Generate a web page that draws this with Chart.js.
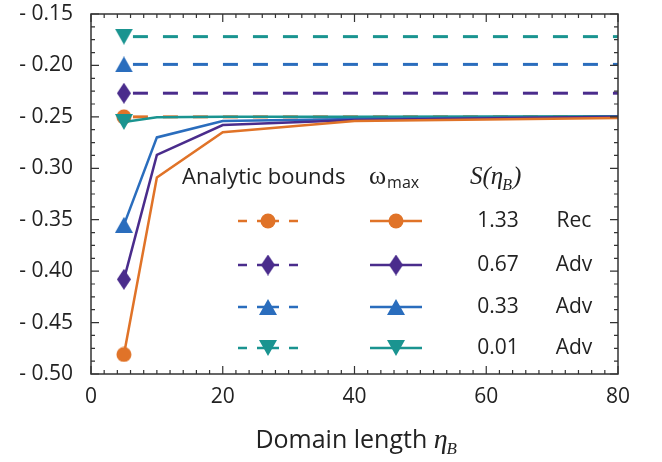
<!DOCTYPE html>
<html>
<head>
<meta charset="utf-8">
<script src="https://cdn.jsdelivr.net/npm/chart.js@4.4.1/dist/chart.umd.min.js"></script>
<style>
  html, body { margin: 0; padding: 0; background: #fff; }
</style>
</head>
<body>
<canvas id="graph" width="662" height="462"></canvas>
<script>
// domain lengths where omega_max was computed
var etaB = [5, 10, 20, 40, 80];
var boundX = [5, 80];

// omega_max curves, one per S(eta_B)
var omegaRec133 = [-0.481, -0.309, -0.265, -0.254, -0.251];
var omegaAdv067 = [-0.408, -0.287, -0.258, -0.253, -0.250];
var omegaAdv033 = [-0.355, -0.270, -0.254, -0.252, -0.250];
var omegaAdv001 = [-0.255, -0.2505, -0.250, -0.250, -0.2495];

// analytic bounds (flat)
var boundRec133 = [-0.250, -0.250];
var boundAdv067 = [-0.227, -0.227];
var boundAdv033 = [-0.199, -0.199];
var boundAdv001 = [-0.172, -0.172];

var sLabels = ["1.33", "0.67", "0.33", "0.01"];
var regimeLabels = ["Rec", "Adv", "Adv", "Adv"];

var ORANGE = "#e07328", PURPLE = "#4a2c8c", BLUE = "#2a6dbd", TEAL = "#1a9490";
var colors = [ORANGE, PURPLE, BLUE, TEAL];

function marker(kind, color) {
    var w = 16, h = 16;
    if (kind == "diamond") { w = 14; h = 21; }
    if (kind == "up" || kind == "down") { w = 18; h = 16; }
    var c = document.createElement("canvas");
    c.width = w; c.height = h;
    var g = c.getContext("2d");
    g.fillStyle = color;
    g.beginPath();
    if (kind == "circle") {
        g.arc(w/2, h/2, 7.5, 0, Math.PI*2);
    } else if (kind == "diamond") {
        g.moveTo(w/2, 0); g.lineTo(w, h/2); g.lineTo(w/2, h); g.lineTo(0, h/2);
    } else if (kind == "up") {
        g.moveTo(w/2, 0); g.lineTo(w, h); g.lineTo(0, h);
    } else {
        g.moveTo(0, 0); g.lineTo(w, 0); g.lineTo(w/2, h);
    }
    g.closePath();
    g.fill();
    return c;
}
var markers = [marker("circle", ORANGE), marker("diamond", PURPLE), marker("up", BLUE), marker("down", TEAL)];

function pts(xs, ys) { return xs.map((x, i) => ({x: x, y: ys[i]})); }

var boundSets = [boundRec133, boundAdv067, boundAdv033, boundAdv001];
var omegaSets = [omegaRec133, omegaAdv067, omegaAdv033, omegaAdv001];
var datasets = [];
boundSets.forEach((b, i) => datasets.push({
    data: pts(boundX, b), borderColor: colors[i], backgroundColor: colors[i],
    borderWidth: 3, borderDash: [15, 15], borderDashOffset: -9,
    pointStyle: markers[i], pointRadius: [6, 0], pointHoverRadius: 0,
    order: 2
}));
omegaSets.forEach((o, i) => datasets.push({
    data: pts(etaB, o), borderColor: colors[i], backgroundColor: colors[i],
    borderWidth: 2.5, pointStyle: markers[i], pointRadius: [6, 0, 0, 0, 0],
    pointHoverRadius: 0, order: 1
}));

var sans = "'Open Sans', sans-serif";
var serif = "'Liberation Serif', serif";

// frame with inward ticks on all sides
var framePlugin = {
    id: "frame",
    afterDraw(chart) {
        var c = chart.ctx, a = chart.chartArea, xs = chart.scales.x, ys = chart.scales.y;
        c.save();
        c.strokeStyle = "#333";
        c.lineWidth = 1.5;
        c.strokeRect(a.left, a.top, a.right - a.left, a.bottom - a.top);
        c.lineWidth = 1.2;
        c.beginPath();
        for (var v = 0; v <= 80; v += 2) {
            var px = xs.getPixelForValue(v);
            var len = (v % 20 == 0) ? 8 : 4;
            c.moveTo(px, a.bottom); c.lineTo(px, a.bottom - len);
            c.moveTo(px, a.top); c.lineTo(px, a.top + len);
        }
        for (var k = 0; k <= 28; k++) {
            var val = -0.5 + k * 0.0125;
            var py = ys.getPixelForValue(val);
            var len2 = (k % 4 == 0) ? 8 : 4;
            c.moveTo(a.left, py); c.lineTo(a.left + len2, py);
            c.moveTo(a.right, py); c.lineTo(a.right - len2, py);
        }
        c.stroke();

        // x axis title
        c.fillStyle = "#222";
        c.textBaseline = "alphabetic";
        var title = "Domain length ";
        c.font = "25px " + sans;
        var tw = c.measureText(title).width;
        c.font = "italic 28px " + serif;
        var ew = c.measureText("\u03b7").width;
        var total = tw + ew + 10;
        var x0 = (a.left + a.right) / 2 - total / 2 + 2;
        var by = 448;
        c.font = "25px " + sans;
        c.fillText(title, x0, by);
        c.font = "italic 28px " + serif;
        c.fillText("\u03b7", x0 + tw, by);
        c.font = "italic 17px " + serif;
        c.fillText("B", x0 + tw + ew - 1, by + 6);

        // legend table
        c.font = "22px " + sans;
        c.textBaseline = "middle";
        c.textAlign = "left";
        c.fillText("Analytic bounds", 182, 178);
        c.font = "26px " + serif;
        c.fillText("\u03c9", 369, 177);
        var ow = c.measureText("\u03c9").width;
        c.font = "16px " + sans;
        c.fillText("max", 369 + ow + 1, 183);
        c.font = "italic 25px " + serif;
        c.fillText("S(\u03b7", 470, 177);
        var sw = c.measureText("S(\u03b7").width;
        c.font = "italic 16px " + serif;
        c.fillText("B", 470 + sw - 1, 186);
        var bw = c.measureText("B").width;
        c.font = "italic 25px " + serif;
        c.fillText(")", 470 + sw + bw, 177);

        var rows = [221, 265, 307, 348];
        rows.forEach((ry, i) => {
            c.strokeStyle = colors[i];
            c.lineWidth = 2.5;
            c.beginPath();
            c.moveTo(238, ry); c.lineTo(247, ry);
            c.moveTo(257, ry); c.lineTo(279, ry);
            c.moveTo(289, ry); c.lineTo(298, ry);
            c.moveTo(370, ry); c.lineTo(422, ry);
            c.stroke();
            var m = markers[i];
            c.drawImage(m, 268 - m.width/2, ry - m.height/2);
            c.drawImage(m, 396 - m.width/2, ry - m.height/2);
            c.fillStyle = "#222";
            c.font = "21px " + sans;
            c.textAlign = "center";
            c.fillText(sLabels[i], 498, ry);
            c.fillText(regimeLabels[i], 574, ry);
            c.textAlign = "left";
        });
        c.restore();
    }
};

var chart = new Chart(document.getElementById("graph").getContext("2d"), {
    type: "line",
    data: { datasets: datasets },
    plugins: [framePlugin],
    options: {
        responsive: false,
        animation: false,
        layout: { padding: { left: 0, right: 44, top: 14, bottom: 0 } },
        plugins: { legend: { display: false }, tooltip: { enabled: false } },
        scales: {
            x: {
                type: "linear", min: 0, max: 80,
                grid: { display: false, drawTicks: false },
                border: { display: false },
                ticks: { stepSize: 20, padding: 10, color: "#222", font: { family: sans, size: 21 } },
                afterFit: s => { s.height = 88; s.paddingLeft = 0; s.paddingRight = 0; }
            },
            y: {
                min: -0.5, max: -0.15,
                grid: { display: false, drawTicks: false },
                border: { display: false },
                ticks: {
                    stepSize: 0.05, padding: 18, color: "#222", font: { family: sans, size: 21 },
                    callback: v => "- " + Math.abs(v).toFixed(2)
                },
                afterFit: s => { s.width = 91; s.paddingTop = 0; s.paddingBottom = 0; }
            }
        }
    }
});
</script>
</body>
</html>
